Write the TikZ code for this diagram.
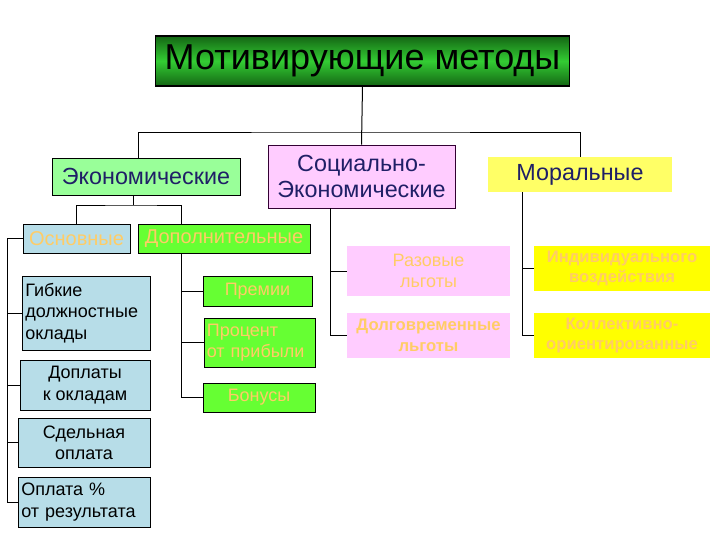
\documentclass[tikz,border=0pt]{standalone}
\usepackage{fontspec}
\setmainfont{Liberation Sans}
\usepackage{xcolor}
\usetikzlibrary{positioning}

\definecolor{titlegreen}{HTML}{33CC33}
\definecolor{darkgreen}{HTML}{146614}
\definecolor{lightgreen}{HTML}{99FF99}
\definecolor{brightgreen}{HTML}{66FF33}
\definecolor{pinkfill}{HTML}{FFCCFF}
\definecolor{pinkedge}{HTML}{330033}
\definecolor{paleyellow}{HTML}{FFFF66}
\definecolor{yellowfill}{HTML}{FFFF00}
\definecolor{bluefill}{HTML}{B7DDE8}
\definecolor{navytext}{HTML}{1F1F66}
\definecolor{fadetext}{HTML}{FFCC66}

\begin{document}
\begin{tikzpicture}[
    x=0.75pt, y=-0.75pt,
    every node/.style={inner sep=0pt, align=center},
    topbox/.style={rectangle, draw=black, line width=0.8pt, font=\fontsize{27}{31}\selectfont},
    groupbox/.style={rectangle, font=\fontsize{17.5}{20}\selectfont, text=navytext},
    itembox/.style={rectangle, font=\fontsize{13.5}{16}\selectfont},
    fadebox/.style={rectangle, text=fadetext, font=\fontsize{12.5}{15.5}\selectfont\bfseries},
    link/.style={draw=black, line width=0.75pt}
]
\useasboundingbox (0,0) rectangle (720,540);

% Top level
\node[topbox, top color=darkgreen, bottom color=darkgreen, middle color=titlegreen,
      minimum width=311pt, minimum height=37.5pt] (title) at (362.5,61) {Мотивирующие методы};

% Second level
\node[groupbox, fill=lightgreen, draw=black, line width=0.6pt, minimum width=141pt, minimum height=27.75pt] (econ) at (146,176.5) {Экономические};
\node[groupbox, fill=pinkfill, draw=pinkedge, line width=0.6pt, minimum width=140.25pt, minimum height=47.25pt] (soc) at (361.5,176.5) {Социально-\\Экономические};
\node[groupbox, fill=paleyellow, minimum width=138pt, minimum height=26.25pt] (moral) at (580,174.5) {Моральные};

% Economic subgroups
\node[itembox, fill=bluefill, draw=black, line width=0.6pt, text=fadetext, font=\fontsize{15}{18}\selectfont, minimum width=80.25pt, minimum height=21.75pt] (osn) at (76.5,238.5) {Основные};
\node[itembox, fill=brightgreen, draw=black, line width=0.6pt, text=fadetext, font=\fontsize{15}{18}\selectfont, minimum width=129pt, minimum height=21.75pt] (dop) at (224,238.5) {Дополнительные};

% Basic payments
\node[itembox, fill=bluefill, draw=black, line width=0.6pt, minimum width=96pt, minimum height=55.5pt, text width=91pt, align=left] (gib) at (86,313) {Гибкие\\должностные\\оклады};
\node[itembox, fill=bluefill, draw=black, line width=0.6pt, minimum width=97.5pt, minimum height=37.5pt] (dopl) at (85,385) {Доплаты\\к окладам};
\node[itembox, fill=bluefill, draw=black, line width=0.6pt, minimum width=99pt, minimum height=36.75pt] (sdel) at (84,442.5) {Сдельная\\оплата};
\node[itembox, fill=bluefill, draw=black, line width=0.6pt, minimum width=99pt, minimum height=37.5pt, text width=94pt, align=left] (opl) at (84,502) {Оплата \%\\от результата};

% Additional payments
\node[itembox, fill=brightgreen, draw=black, line width=0.6pt, text=fadetext, minimum width=81.75pt, minimum height=22.5pt] (prem) at (257.5,291) {Премии};
\node[itembox, fill=brightgreen, draw=black, line width=0.6pt, text=fadetext, minimum width=83.25pt, minimum height=36.75pt, text width=79pt, align=left] (proc) at (259.5,342.5) {Процент\\от прибыли};
\node[itembox, fill=brightgreen, draw=black, line width=0.6pt, text=fadetext, minimum width=84pt, minimum height=21.75pt] (bon) at (259,397.5) {Бонусы};

% Social benefits
\node[itembox, fill=pinkfill, text=fadetext, minimum width=122.25pt, minimum height=37.5pt] (raz) at (428.5,271) {Разовые\\льготы};
\node[fadebox, fill=pinkfill, minimum width=122.25pt, minimum height=33.75pt] (dolg) at (428.5,335.5) {Долговременные\\льготы};

% Moral methods
\node[fadebox, fill=yellowfill, minimum width=132pt, minimum height=33.75pt] (ind) at (622,268.5) {Индивидуального\\воздействия};
\node[fadebox, fill=yellowfill, minimum width=132pt, minimum height=33.75pt] (kol) at (622,335.5) {Коллективно-\\ориентированные};

% Joints
\coordinate (hub) at (362,132);
\coordinate (ejoin) at (133,205);
\coordinate (dbus) at (181,402);
\coordinate (lbus) at (7,240);
\coordinate (sbus) at (330,336);
\coordinate (mbus) at (522,337);

% Top to second level
\draw[link] (title.south) -- (soc.north);
\draw[link] ([xshift=-6pt]econ.north) |- (hub) -| (moral.north);

% Economic branch
\draw[link] (econ.south -| ejoin) -- (ejoin);
\draw[link] (osn.north) |- (ejoin) -| (dop.north -| dbus);
\draw[link] (dop.south -| dbus) |- (bon.west);
\draw[link] (dbus |- prem.west) -- (prem.west);
\draw[link] (dbus |- proc.west) -- (proc.west);

% Basic payments bus
\draw[link] (osn.west) -- (osn.west -| lbus) -- (lbus |- opl.west) -- (opl.west);
\draw[link] (lbus |- gib.west) -- (gib.west);
\draw[link] (lbus |- dopl.west) -- (dopl.west);
\draw[link] (lbus |- sdel.west) -- (sdel.west);

% Social branch
\draw[link] (soc.south -| sbus) |- (dolg.west);
\draw[link] (sbus |- raz.west) -- (raz.west);

% Moral branch
\draw[link] (moral.south -| mbus) |- (kol.west);
\draw[link] (mbus |- ind.west) -- (ind.west);

\end{tikzpicture}
\end{document}
